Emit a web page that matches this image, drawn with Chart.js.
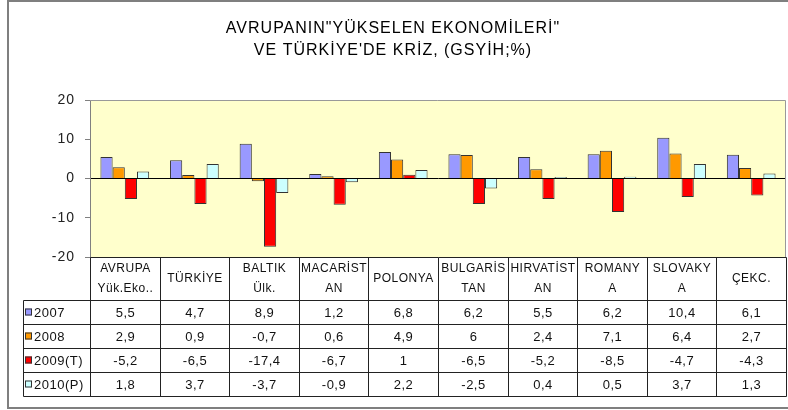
<!DOCTYPE html>
<html lang="tr">
  <head>
    <meta charset="UTF-8" />
    <title>Avrupanın Yükselen Ekonomileri ve Türkiye'de Kriz</title>
    <script src="https://cdn.jsdelivr.net/npm/chart.js"></script>
    <style>
      body {
        margin: 0;
        padding: 0;
        background: #fff;
      }
      canvas {
        display: block;
      }
    </style>
  </head>
  <body>
    <canvas id="crisisChart" width="788" height="410"></canvas>

    <script>
      // category labels, split the way the table header wraps them
      const categories = [
        ["AVRUPA", "Yük.Eko.."],
        ["TÜRKİYE"],
        ["BALTIK", "Ülk."],
        ["MACARİST", "AN"],
        ["POLONYA"],
        ["BULGARİS", "TAN"],
        ["HIRVATİST", "AN"],
        ["ROMANY", "A"],
        ["SLOVAKY", "A"],
        ["ÇEKC."],
      ];
      const seriesNames = ["2007", "2008", "2009(T)", "2010(P)"];
      const values2007 = [5.5, 4.7, 8.9, 1.2, 6.8, 6.2, 5.5, 6.2, 10.4, 6.1];
      const values2008 = [2.9, 0.9, -0.7, 0.6, 4.9, 6, 2.4, 7.1, 6.4, 2.7];
      const values2009 = [-5.2, -6.5, -17.4, -6.7, 1, -6.5, -5.2, -8.5, -4.7, -4.3];
      const values2010 = [1.8, 3.7, -3.7, -0.9, 2.2, -2.5, 0.4, 0.5, 3.7, 1.3];
      const yTicks = [-20, -10, 0, 10, 20];

      const seriesValues = [values2007, values2008, values2009, values2010];
      const seriesColors = ["#9999ff", "#ff9900", "#ff0000", "#ccffff"];
      const fontFamily = "'Liberation Sans', Arial, sans-serif";

      function formatValue(v) {
        return String(v).replace(".", ",");
      }

      // white page, grey outer frame, yellow plot area
      const backgroundPlugin = {
        id: "background",
        beforeDraw(chart) {
          const { ctx, chartArea: a } = chart;
          ctx.save();
          ctx.fillStyle = "#ffffff";
          ctx.fillRect(0, 0, chart.width, chart.height);
          ctx.strokeStyle = "#7f7f7f";
          ctx.lineWidth = 2;
          ctx.strokeRect(8, 1, 790, 407);
          ctx.fillStyle = "#ffffcc";
          ctx.fillRect(a.left, a.top, a.right - a.left, a.bottom - a.top);
          ctx.restore();
          // excel-like wide text spacing for title and axis
          ctx.letterSpacing = "1px";
        },
      };

      // data table under the plot, built from the same arrays
      const tablePlugin = {
        id: "dataTable",
        afterDraw(chart) {
          const { ctx, chartArea: a, scales } = chart;
          const x = scales.x;
          const n = categories.length;
          const edges = [];
          for (let i = 0; i <= n; i++) {
            edges.push(Math.round(x.getPixelForValue(i - 0.5)) + 0.5);
          }
          const headTop = Math.round(a.bottom) + 0.5;
          const headBottom = 300.5;
          const rowH = 24;
          const legendLeft = 23.5;
          const tableBottom = headBottom + rowH * seriesNames.length;

          ctx.save();
          ctx.letterSpacing = "0.5px";

          // plot frame top and right
          ctx.strokeStyle = "#999999";
          ctx.lineWidth = 1;
          ctx.beginPath();
          ctx.moveTo(a.left, Math.round(a.top) + 0.5);
          ctx.lineTo(Math.round(a.right) - 0.5, Math.round(a.top) + 0.5);
          ctx.lineTo(Math.round(a.right) - 0.5, a.bottom);
          ctx.stroke();

          ctx.strokeStyle = "#222222";
          ctx.beginPath();
          ctx.moveTo(edges[0], headTop);
          ctx.lineTo(edges[n], headTop);
          for (let r = 0; r <= seriesNames.length; r++) {
            const y = headBottom + r * rowH;
            ctx.moveTo(legendLeft, y);
            ctx.lineTo(edges[n], y);
          }
          edges.forEach((ex) => {
            ctx.moveTo(ex, headTop);
            ctx.lineTo(ex, tableBottom);
          });
          ctx.moveTo(legendLeft, headBottom);
          ctx.lineTo(legendLeft, tableBottom);
          ctx.stroke();

          ctx.fillStyle = "#111111";
          ctx.textAlign = "center";
          ctx.textBaseline = "middle";

          // header labels
          ctx.font = "12px " + fontFamily;
          const headMid = (headTop + headBottom) / 2;
          categories.forEach((lines, i) => {
            const cx = (edges[i] + edges[i + 1]) / 2;
            const start = headMid - ((lines.length - 1) * 20) / 2;
            lines.forEach((line, k) => {
              ctx.fillText(line, cx, start + k * 20);
            });
          });

          // value rows with legend keys
          ctx.font = "13px " + fontFamily;
          seriesNames.forEach((name, r) => {
            const cy = headBottom + r * rowH + rowH / 2;
            ctx.fillStyle = seriesColors[r];
            ctx.fillRect(25, cy - 4, 7, 7);
            ctx.strokeStyle = "#333333";
            ctx.strokeRect(25.5, cy - 3.5, 6, 6);
            ctx.fillStyle = "#111111";
            ctx.textAlign = "left";
            ctx.fillText(name, 34, cy + 1);
            ctx.textAlign = "center";
            seriesValues[r].forEach((v, i) => {
              const cx = (edges[i] + edges[i + 1]) / 2;
              ctx.fillText(formatValue(v), cx, cy + 1);
            });
          });
          ctx.restore();
        },
      };

      const ctx = document.getElementById("crisisChart").getContext("2d");
      const crisisChart = new Chart(ctx, {
        type: "bar",
        data: {
          labels: categories.map((c) => c.join(" ")),
          datasets: seriesNames.map((name, i) => ({
            label: name,
            data: seriesValues[i],
            backgroundColor: seriesColors[i],
            borderColor: "#333333",
            borderWidth: 1,
            categoryPercentage: 0.7,
            barPercentage: 1.0,
          })),
        },
        options: {
          responsive: false,
          animation: false,
          layout: {
            padding: { top: 0, left: 0, right: 2, bottom: 153 },
          },
          plugins: {
            legend: { display: false },
            tooltip: { enabled: false },
            title: {
              display: true,
              text: [
                'AVRUPANIN"YÜKSELEN EKONOMİLERİ"',
                "VE TÜRKİYE'DE KRİZ, (GSYİH;%)",
              ],
              color: "#000000",
              font: { family: fontFamily, size: 16, weight: "normal", lineHeight: 1.35 },
              padding: { top: 18, bottom: 39 },
            },
          },
          scales: {
            x: {
              display: false,
            },
            y: {
              min: yTicks[0],
              max: yTicks[yTicks.length - 1],
              afterBuildTicks(scale) {
                scale.ticks = yTicks.map((v) => ({ value: v }));
              },
              afterFit(scale) {
                scale.width = 90;
              },
              ticks: {
                color: "#222222",
                padding: 10,
                font: { family: fontFamily, size: 14 },
              },
              grid: {
                color: (c) => (c.tick && c.tick.value === 0 ? "#000000" : "rgba(0,0,0,0)"),
                tickColor: "#808080",
                tickLength: 5,
              },
              border: { color: "#808080" },
            },
          },
        },
        plugins: [backgroundPlugin, tablePlugin],
      });
    </script>
  </body>
</html>
